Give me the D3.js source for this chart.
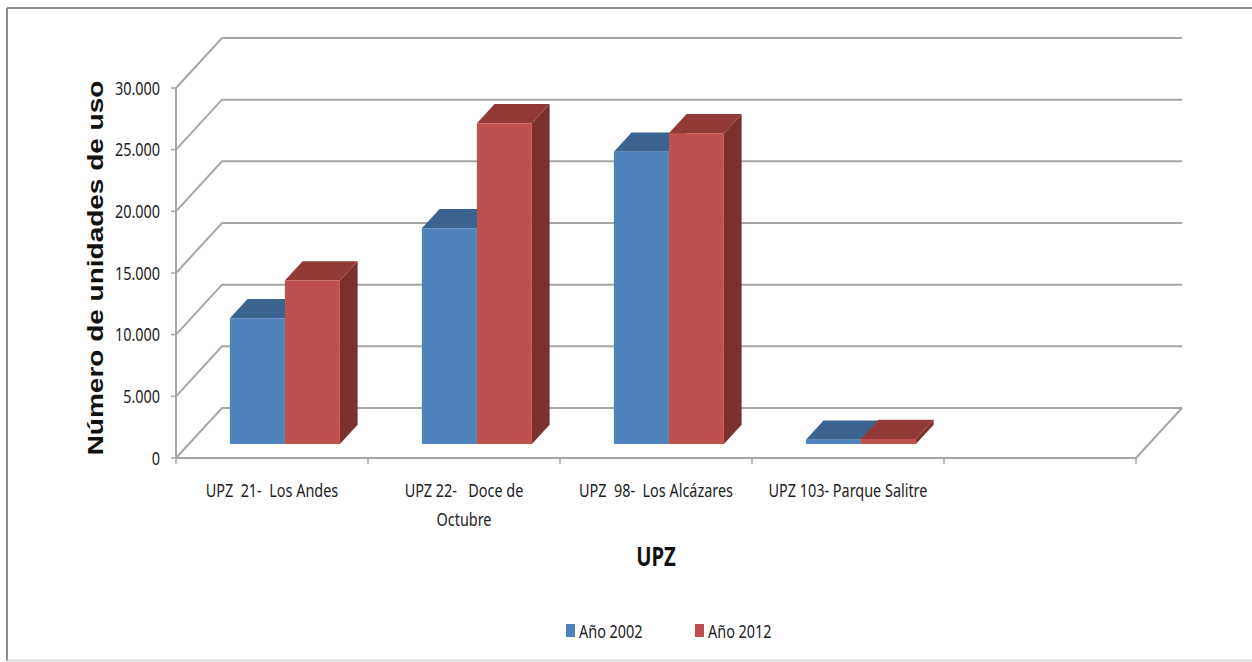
<!DOCTYPE html>
<html>
<head>
<meta charset="utf-8">
<script src="https://cdn.jsdelivr.net/npm/d3@7"></script>
<style>
  body { margin: 0; background: #fff; }
  svg { display: block; }
  text { white-space: pre; }
</style>
</head>
<body>
<svg id="chart" width="1252" height="662"></svg>
<script>
// Categories (the last slot is an empty category on the axis)
const categories = ["UPZ  21-  Los Andes", "UPZ 22-   Doce de\nOctubre", "UPZ  98-  Los Alcázares", "UPZ 103- Parque Salitre", ""];
const seriesNames = ["Año 2002", "Año 2012"];
const values2002 = [10200, 17500, 23700, 350];
const values2012 = [13250, 26000, 25200, 400];
const yTicks = [0, 5000, 10000, 15000, 20000, 25000, 30000];

const seriesValues = [values2002, values2012];
const seriesColors = [
  { front: "#4f81bd", top: "#3b6390", side: "#30527a" },
  { front: "#c0504d", top: "#913a38", side: "#7c302e" }
];

const svg = d3.select("#chart");
const W = 1252, H = 662;

// Compressed text look for horizontal labels
const SX = 0.78;
const bodyFont = "'Noto Sans', 'Open Sans', sans-serif";

// 3D projection: front plane plus a receding depth offset
const front = { left: 176, right: 1136, bottom: 458, top: 88 };
const depth = { dx: 46, dy: -50 };
const barDepth = [0.28, 0.665];

const x = d3.scaleBand().domain(d3.range(categories.length)).range([front.left, front.right]).paddingInner(0).paddingOuter(0);
const xs = d3.scaleBand().domain(seriesNames).range([0, x.bandwidth()]).paddingInner(0).paddingOuter(0.745);
const y = d3.scaleLinear().domain([0, 30000]).range([front.bottom, front.top]);

const P = (px, v, d) => [px + d * depth.dx, y(v) + d * depth.dy];

const fmt = d3.formatLocale({ decimal: ",", thousands: ".", grouping: [3], currency: ["$", ""] }).format(",");

// Outer frame
const frame = svg.append("g");
frame.append("line").attr("x1", 7).attr("y1", 8).attr("x2", W).attr("y2", 8).attr("stroke", "#8c8c8c").attr("stroke-width", 2);
frame.append("line").attr("x1", 7).attr("y1", 8).attr("x2", 7).attr("y2", 661).attr("stroke", "#8c8c8c").attr("stroke-width", 2);
frame.append("line").attr("x1", 7).attr("y1", 660.5).attr("x2", W).attr("y2", 660.5).attr("stroke", "#d6d6d6").attr("stroke-width", 1.5);

// Walls: gridlines on the back wall and the diagonals on the side wall
const grid = svg.append("g").attr("stroke", "#a6a6a6").attr("stroke-width", 2).attr("fill", "none");
yTicks.forEach(t => {
  const a = P(front.left, t, 0), b = P(front.left, t, 1), c = P(front.right, t, 1);
  grid.append("path").attr("d", d3.line()([a, b, c]));
});
// Floor front edge and right edge
{
  const a = P(front.left, 0, 0), b = P(front.right, 0, 0), c = P(front.right, 0, 1);
  grid.append("path").attr("d", d3.line()([a, b, c]));
}
// Vertical value axis
grid.append("line").attr("x1", front.left).attr("x2", front.left).attr("y1", y(30000)).attr("y2", y(0));

// Ticks
const ticks = svg.append("g").attr("stroke", "#a6a6a6").attr("stroke-width", 1.5);
yTicks.forEach(t => {
  ticks.append("line").attr("x1", front.left - 5).attr("x2", front.left).attr("y1", y(t)).attr("y2", y(t));
});
d3.range(categories.length + 1).forEach(i => {
  const px = front.left + i * x.step();
  ticks.append("line").attr("x1", px).attr("x2", px).attr("y1", y(0)).attr("y2", y(0) + 6);
});

// Y tick labels
const yl = svg.append("g").attr("font-family", bodyFont).attr("font-size", 18.5).attr("fill", "#222");
yTicks.forEach(t => {
  yl.append("text")
    .attr("transform", `translate(160,${y(t) + 6.5}) scale(${SX},1)`)
    .attr("text-anchor", "end")
    .text(fmt(t));
});

// Bars
const bars = svg.append("g");
categories.forEach((cat, i) => {
  seriesNames.forEach((s, k) => {
    const v = seriesValues[k][i];
    if (v == null) return;
    const x0 = x(i) + xs(s), x1 = x0 + xs.bandwidth();
    const [d0, d1] = barDepth;
    const col = seriesColors[k];
    const line = d3.line();
    // side face
    bars.append("path").attr("fill", col.side)
      .attr("d", line([P(x1, 0, d0), P(x1, 0, d1), P(x1, v, d1), P(x1, v, d0)]) + "Z");
    // top face
    bars.append("path").attr("fill", col.top)
      .attr("d", line([P(x0, v, d0), P(x1, v, d0), P(x1, v, d1), P(x0, v, d1)]) + "Z");
    // front face
    bars.append("path").attr("fill", col.front)
      .attr("d", line([P(x0, 0, d0), P(x1, 0, d0), P(x1, v, d0), P(x0, v, d0)]) + "Z");
  });
});

// Category labels
const xl = svg.append("g").attr("font-family", bodyFont).attr("font-size", 18.5).attr("fill", "#222");
categories.forEach((cat, i) => {
  if (!cat) return;
  const cx = x(i) + x.bandwidth() / 2;
  cat.split("\n").forEach((ln, j) => {
    xl.append("text")
      .attr("transform", `translate(${cx},${497 + j * 29}) scale(${SX},1)`)
      .attr("text-anchor", "middle")
      .text(ln);
  });
});

// Axis titles
svg.append("text")
  .attr("transform", `translate(${(front.left + front.right) / 2},566) scale(${SX},1)`)
  .attr("text-anchor", "middle")
  .attr("font-family", bodyFont).attr("font-weight", "bold").attr("font-size", 26).attr("fill", "#111")
  .text("UPZ");

svg.append("text")
  .attr("transform", `translate(103,268) scale(${SX},1) rotate(-90)`)
  .attr("text-anchor", "middle")
  .attr("font-family", "'Liberation Sans', Arial, sans-serif").attr("font-weight", "bold").attr("font-size", 28).attr("fill", "#111")
  .text("Número de unidades de uso");

// Legend
const legend = svg.append("g").attr("font-family", bodyFont).attr("font-size", 18.5).attr("fill", "#222");
const legendX = [566, 695];
seriesNames.forEach((s, k) => {
  legend.append("rect").attr("x", legendX[k]).attr("y", 624).attr("width", 9).attr("height", 13).attr("fill", seriesColors[k].front);
  legend.append("text")
    .attr("transform", `translate(${legendX[k] + 13},638) scale(${SX},1)`)
    .text(s);
});
</script>
</body>
</html>
